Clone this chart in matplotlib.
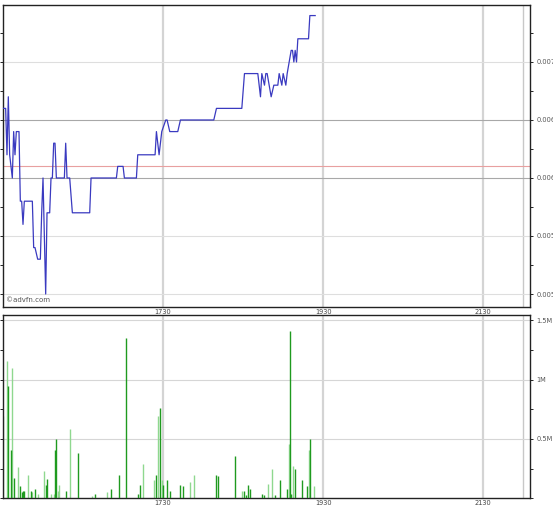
import numpy as np
import matplotlib
matplotlib.use("Agg")
from matplotlib import pyplot as plt
from matplotlib.ticker import MultipleLocator, FuncFormatter

# price trace (clock time, price)
price_times = ["15:30","15:32","15:33","15:34","15:35","15:36","15:37","15:38","15:39","15:40",
               "15:42","15:43","15:44","15:45","15:46","15:52","15:53","15:54","15:56","15:58",
               "15:59","16:00","16:02","16:03","16:05","16:06","16:07","16:08","16:09","16:10",
               "16:16","16:17","16:18","16:20","16:22","16:35","16:36","16:55","16:56","17:00",
               "17:01","17:10","17:11","17:24","17:25","17:27","17:29","17:32","17:33","17:35",
               "17:41","17:43","18:08","18:10","18:29","18:31","18:41","18:43","18:44","18:46",
               "18:47","18:48","18:51","18:53","18:56","18:57","18:59","19:00","19:02","19:03",
               "19:06","19:07","19:08","19:09","19:10","19:11","19:19","19:20","19:24"]
prices = [0.0066,0.0066,0.0062,0.0067,0.0062,0.0061,0.0060,0.0064,0.0062,0.0064,
          0.0064,0.0058,0.0058,0.0056,0.0058,0.0058,0.0054,0.0054,0.0053,0.0053,
          0.0057,0.0060,0.0050,0.0057,0.0057,0.0060,0.0060,0.0063,0.0063,0.0060,
          0.0060,0.0063,0.0060,0.0060,0.0057,0.0057,0.0060,0.0060,0.0061,0.0061,
          0.0060,0.0060,0.0062,0.0062,0.0064,0.0062,0.0064,0.0065,0.0065,0.0064,
          0.0064,0.0065,0.0065,0.0066,0.0066,0.0069,0.0069,0.0067,0.0069,0.0068,
          0.0069,0.0069,0.0067,0.0068,0.0068,0.0069,0.0068,0.0069,0.0068,0.0069,
          0.0071,0.0071,0.0070,0.0071,0.0070,0.0072,0.0072,0.0074,0.0074]
prev_close = 0.0061

# volume (clock time, shares in millions, light shade flag)
vol_times = ["15:30","15:33","15:34","15:36","15:37","15:38","15:41","15:43","15:44","15:45",
             "15:46","15:49","15:51","15:52","15:54","15:56","16:01","16:02","16:03","16:06",
             "16:08","16:09","16:10","16:11","16:12","16:17","16:20","16:26","16:37","16:39",
             "16:48","16:51","16:57","17:02","17:11","17:13","17:15","17:23","17:25","17:26",
             "17:28","17:29","17:30","17:33","17:35","17:43","17:45","17:50","17:53","18:10",
             "18:11","18:24","18:29","18:31","18:32","18:34","18:35","18:44","18:46","18:49",
             "18:52","18:54","18:58","19:03","19:04","19:05","19:06","19:07","19:09","19:14",
             "19:18","19:19","19:20","19:23"]
volumes = [0.69,1.16,0.95,0.41,1.10,0.17,0.26,0.10,0.05,0.06,
           0.06,0.20,0.06,0.05,0.08,0.04,0.23,0.11,0.16,0.04,
           0.04,0.41,0.50,0.06,0.11,0.06,0.58,0.38,0.02,0.04,
           0.05,0.08,0.20,1.35,0.04,0.11,0.29,0.15,0.20,0.69,
           0.76,0.15,0.11,0.15,0.06,0.11,0.10,0.14,0.20,0.20,
           0.19,0.36,0.06,0.06,0.03,0.11,0.08,0.04,0.03,0.12,
           0.25,0.03,0.15,0.08,0.46,1.41,0.04,0.27,0.25,0.15,
           0.10,0.41,0.50,0.10]
vol_light = [1,1,0,0,1,0,1,0,0,0,
             0,1,0,1,0,1,1,0,0,1,
             1,0,0,1,1,0,1,0,1,0,
             1,0,0,0,0,0,1,1,0,1,
             0,1,0,0,0,0,0,1,1,0,
             0,0,1,0,0,0,0,0,0,1,
             1,0,0,0,1,0,0,1,0,0,
             0,1,0,1]

tick_times = ["17:30","19:30","21:30"]
tick_labels = ["1730","1930","2130"]
price_ticks = [0.005,0.0055,0.006,0.0065,0.007]
price_labels = ["0.005","0.0055","0.006","0.0065","0.007"]
vol_ticks = [0.5,1.0,1.5]
vol_labels = ["0.5M","1M","1.5M"]


def mins(s):
    h, m = s.split(":")
    return int(h)*60 + int(m)

pt = np.array([mins(s) for s in price_times])
vt = np.array([mins(s) for s in vol_times])
vv = np.array(volumes)
vl = np.array(vol_light, dtype=bool)
xt = [mins(s) for s in tick_times]
xlim = (mins("15:30"), mins("22:05"))
session_end = mins("22:00")

fig = plt.figure(figsize=(5.53, 5.12), dpi=100)
ax1 = fig.add_axes([0.0054, 0.4004, 0.953, 0.5898])
ax2 = fig.add_axes([0.0054, 0.0268, 0.953, 0.358])

for ax in (ax1, ax2):
    ax.set_xlim(*xlim)
    for x in xt:
        ax.axvline(x, color="#d4d4d4", lw=1.6, zorder=0)
    ax.axvline(session_end, color="#c8c8c8", lw=1.0, zorder=0)
    ax.set_xticks(xt)
    ax.set_xticklabels(tick_labels, fontsize=4.8, color="#444444")
    ax.tick_params(axis="x", length=0, pad=1.5)
    ax.yaxis.tick_right()
    ax.tick_params(axis="y", which="both", direction="out", length=2.5, width=0.6,
                   labelsize=4.8, labelcolor="#555555", pad=2, left=True)
    for sp in ax.spines.values():
        sp.set_color("#222222")
        sp.set_linewidth(1.0)

# price panel
ax1.set_ylim(0.004888, 0.007491)
for p in price_ticks:
    c = "#a8a8a8" if p in (0.006, 0.0065) else "#dedede"
    ax1.axhline(p, color=c, lw=0.8, zorder=0)
ax1.axhline(prev_close, color="#e8a0a0", lw=0.8, zorder=1)
ax1.plot(pt, prices, color="#3a3ac0", lw=0.9, zorder=3)
ax1.set_yticks(price_ticks)
ax1.set_yticklabels(price_labels)
ax1.yaxis.set_minor_locator(MultipleLocator(0.00025))
ax1.text(0.006, 0.012, "\u00a9advfn.com", transform=ax1.transAxes, fontsize=5,
         color="#555555", va="bottom", ha="left")

# volume panel
ax2.set_ylim(0, 1.545)
for v in vol_ticks:
    ax2.axhline(v, color="#d6d6d6", lw=0.8, zorder=0)
ax2.vlines(vt[vl], 0, vv[vl], color="#8fd88f", lw=1.0, zorder=2)
ax2.vlines(vt[~vl], 0, vv[~vl], color="#1f9a1f", lw=1.0, zorder=3)
ax2.set_yticks(vol_ticks)
ax2.set_yticklabels(vol_labels)
ax2.yaxis.set_minor_locator(MultipleLocator(0.25))

fig.savefig("out.png", dpi=100)
